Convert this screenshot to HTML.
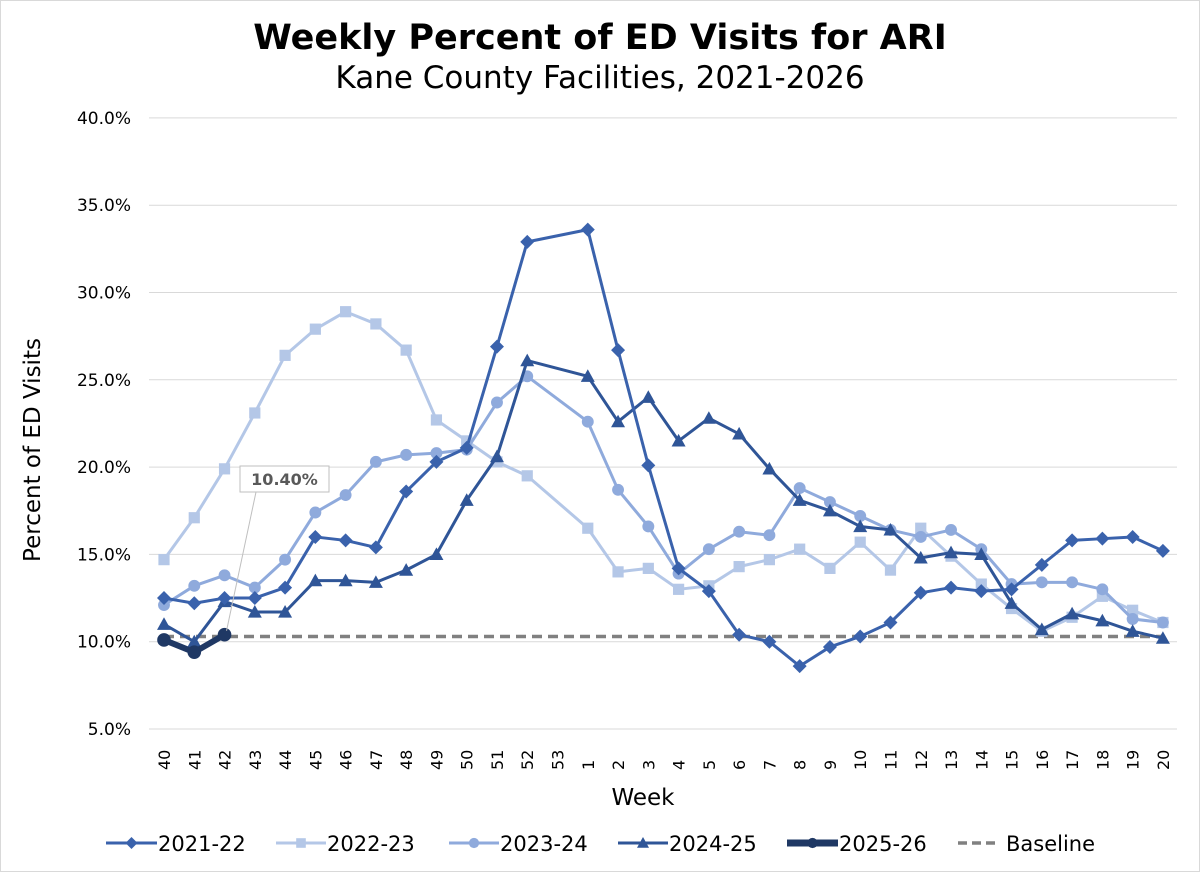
<!DOCTYPE html>
<html><head><meta charset="utf-8"><style>
body{margin:0;background:#fff;}
svg text{font-family:"DejaVu Sans","Liberation Sans",sans-serif;}
</style></head><body>
<svg id="c" width="1200" height="872" xmlns="http://www.w3.org/2000/svg">
<rect x="0.5" y="0.5" width="1199" height="871" fill="#fff" stroke="#d9d9d9"/>
<text x="600" y="49" text-anchor="middle" font-size="35" font-weight="bold">Weekly Percent of ED Visits for ARI</text>
<text x="600" y="88" text-anchor="middle" font-size="31">Kane County Facilities, 2021-2026</text>
<text transform="translate(40,450) rotate(-90)" text-anchor="middle" font-size="23">Percent of ED Visits</text>
<text x="643" y="805" text-anchor="middle" font-size="23">Week</text>
<g id="grid"></g><g id="series"></g><g id="legend"></g>
</svg>
<script>
const weeks=[40,41,42,43,44,45,46,47,48,49,50,51,52,53,1,2,3,4,5,6,7,8,9,10,11,12,13,14,15,16,17,18,19,20];
const yTicks=[5,10,15,20,25,30,35,40];
const s2122=[12.5,12.2,12.5,12.5,13.1,16.0,15.8,15.4,18.6,20.3,21.1,26.9,32.9,null,33.6,26.7,20.1,14.2,12.9,10.4,10.0,8.6,9.7,10.3,11.1,12.8,13.1,12.9,13.0,14.4,15.8,15.9,16.0,15.2];
const s2223=[14.7,17.1,19.9,23.1,26.4,27.9,28.9,28.2,26.7,22.7,21.5,20.3,19.5,null,16.5,14.0,14.2,13.0,13.2,14.3,14.7,15.3,14.2,15.7,14.1,16.5,14.9,13.3,11.9,10.6,11.4,12.6,11.8,11.1];
const s2324=[12.1,13.2,13.8,13.1,14.7,17.4,18.4,20.3,20.7,20.8,21.0,23.7,25.2,null,22.6,18.7,16.6,13.9,15.3,16.3,16.1,18.8,18.0,17.2,16.4,16.0,16.4,15.3,13.3,13.4,13.4,13.0,11.3,11.1];
const s2425=[11.0,10.0,12.3,11.7,11.7,13.5,13.5,13.4,14.1,15.0,18.1,20.6,26.1,null,25.2,22.6,24.0,21.5,22.8,21.9,19.9,18.1,17.5,16.6,16.4,14.8,15.1,15.0,12.2,10.7,11.6,11.2,10.6,10.2];
const s2526=[10.1,9.4,10.4];
const baseline=10.3;
const calloutLabel="10.40%";
const NS="http://www.w3.org/2000/svg";
const X0=164,XS=30.27,Y0=729,YS=17.46;
const xp=i=>X0+i*XS, yp=v=>Y0-(v-5)*YS;
function mk(t,a,p){const e=document.createElementNS(NS,t);for(const k in a)e.setAttribute(k,a[k]);p.appendChild(e);return e;}
const grid=document.getElementById('grid'),ser=document.getElementById('series'),leg=document.getElementById('legend');
yTicks.forEach(v=>{
 const l=mk('line',{x1:149,x2:1177,y1:yp(v),y2:yp(v),stroke:'#d9d9d9','stroke-width':1},grid);
 
 
 const t=mk('text',{x:131,y:yp(v)+6,'text-anchor':'end','font-size':17},grid);t.textContent=v.toFixed(1)+'%';
 
 
});
weeks.forEach((w,i)=>{
 const t=mk('text',{transform:`translate(${xp(i)+6},${770}) rotate(-90)`,'text-anchor':'start','font-size':16},grid);t.textContent=w;
 
 
});
const bl=mk('line',{x1:xp(0),x2:xp(weeks.length-1),y1:yp(baseline),y2:yp(baseline),stroke:'#808080','stroke-width':3.5,'stroke-dasharray':'10,6'},ser);


function marker(shape,x,y,c,g,r){
 let e;
 if(shape==='diamond')e=mk('polygon',{points:`${x},${y-r} ${x+r},${y} ${x},${y+r} ${x-r},${y}`,fill:c},g);
 else if(shape==='square')e=mk('rect',{x:x-r*0.8,y:y-r*0.8,width:r*1.6,height:r*1.6,fill:c},g);
 else if(shape==='triangle')e=mk('polygon',{points:`${x},${y-r} ${x+r},${y+r*0.8} ${x-r},${y+r*0.8}`,fill:c},g);
 else e=mk('circle',{cx:x,cy:y,r:r*0.85,fill:c},g);
 return e;
}
function series(data,c,shape,w,r,name){
 const g=mk('g',{},ser);
 
 
 const pts=[];data.forEach((v,i)=>{if(v!=null)pts.push([xp(i),yp(v)]);});
 mk('polyline',{points:pts.map(p=>p.join(',')).join(' '),fill:'none',stroke:c,'stroke-width':w,'stroke-linejoin':'round'},g);
 pts.forEach(p=>{const m=marker(shape,p[0],p[1],c,g,r);
  
  });
}
series(s2223,'#b4c7e7','square',3,7,'series-2022-23');
series(s2324,'#8faadc','circle',3,7,'series-2023-24');
series(s2425,'#2f5597','triangle',3,7,'series-2024-25');
series(s2122,'#3a62ac','diamond',3,7,'series-2021-22');
series(s2526,'#1f3864','circle',6,8,'series-2025-26');
const li=s2526.length-1;
const cl=mk('line',{x1:xp(li)+2,y1:yp(s2526[li])-4,x2:256,y2:492,stroke:'#bfbfbf','stroke-width':1},ser);


const cb=mk('rect',{x:240,y:466,width:89,height:26,fill:'#fff',stroke:'#bfbfbf'},ser);


const ct=mk('text',{x:284.5,y:485,'text-anchor':'middle','font-size':16,'font-weight':'bold',fill:'#595959'},ser);ct.textContent=calloutLabel;


const items=[['2021-22','#3a62ac','diamond',3,106,51],['2022-23','#b4c7e7','square',3,276,50],['2023-24','#8faadc','circle',3,449,50],['2024-25','#2f5597','triangle',3,618,50],['2025-26','#1f3864','circle',7,787,51],['Baseline','#808080',null,3.5,958,42]];
items.forEach(it=>{
 const g=mk('g',{},leg);
 
 
 const y=843;
 const ln=mk('line',{x1:it[4],x2:it[4]+it[5],y1:y,y2:y,stroke:it[1],'stroke-width':it[3]},g);
 if(!it[2])ln.setAttribute('stroke-dasharray','9,5');
 else marker(it[2],it[4]+it[5]/2,y,it[1],g,6);
 const t=mk('text',{x:it[4]+it[5]+(it[2]?1:6),y:y+8,'font-size':21},g);t.textContent=it[0];
});
</script>
</body></html>
